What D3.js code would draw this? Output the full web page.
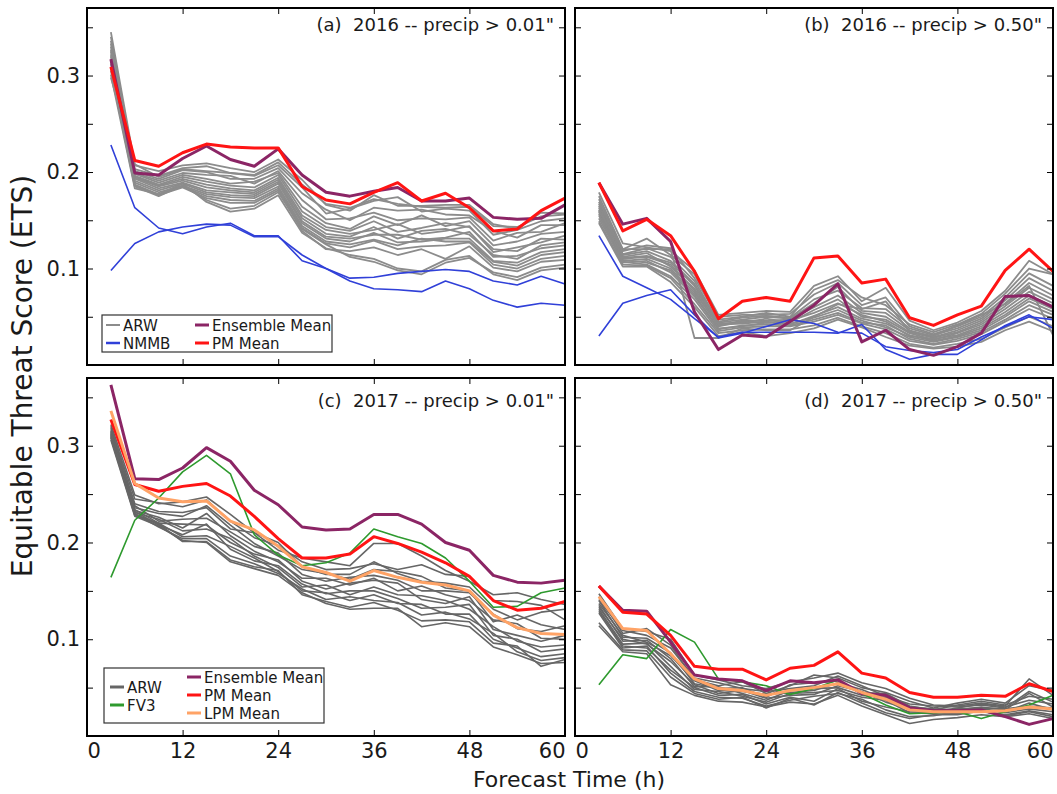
<!DOCTYPE html>
<html>
<head>
<meta charset="utf-8">
<script src="https://cdn.jsdelivr.net/npm/d3@7"></script>
<style>
body { margin: 0; background: #fff; }
text { font-family: "DejaVu Sans", Verdana, sans-serif; }
</style>
</head>
<body>
<svg width="1057" height="794"></svg>
<script>
// forecast hours (3-hourly)
let hours = [3,6,9,12,15,18,21,24,27,30,33,36,39,42,45,48,51,54,57,60];
let xTicks = [0,12,24,36,48,60];
let yTicks = [0.05,0.10,0.15,0.20,0.25,0.30,0.35];
let panelTitles = ['(a)  2016 -- precip > 0.01"', '(b)  2016 -- precip > 0.50"',
                   '(c)  2017 -- precip > 0.01"', '(d)  2017 -- precip > 0.50"'];

// ---- panel (a) ----
let aARW = [
  [.345,.207,.201,.207,.209,.204,.200,.213,.192,.166,.160,.176,.165,.165,.166,.166,.146,.141,.158,.157],
  [.340,.203,.196,.204,.206,.199,.196,.207,.184,.157,.162,.170,.174,.159,.162,.160,.135,.140,.149,.152],
  [.336,.201,.193,.202,.200,.193,.193,.204,.178,.161,.150,.163,.160,.161,.156,.155,.139,.132,.145,.145],
  [.333,.199,.191,.199,.197,.196,.188,.201,.171,.151,.152,.158,.150,.152,.151,.153,.129,.137,.138,.147],
  [.330,.198,.189,.197,.193,.188,.190,.199,.164,.147,.141,.154,.145,.155,.144,.149,.124,.128,.136,.138],
  [.327,.196,.187,.195,.190,.186,.184,.197,.159,.143,.139,.149,.138,.142,.147,.143,.120,.118,.131,.130],
  [.325,.195,.186,.193,.187,.183,.181,.194,.155,.140,.136,.140,.146,.136,.139,.144,.117,.122,.127,.134],
  [.322,.194,.185,.191,.184,.181,.179,.192,.152,.136,.133,.143,.131,.139,.141,.135,.114,.110,.124,.127],
  [.320,.193,.183,.189,.181,.179,.177,.190,.149,.133,.131,.135,.135,.130,.132,.138,.112,.113,.121,.124],
  [.317,.191,.181,.188,.179,.176,.175,.188,.147,.131,.128,.137,.127,.128,.131,.131,.108,.106,.117,.120],
  [.315,.189,.179,.186,.177,.174,.173,.185,.144,.128,.125,.130,.124,.131,.128,.128,.107,.103,.114,.117],
  [.312,.187,.177,.185,.175,.171,.170,.183,.142,.126,.122,.129,.120,.123,.124,.127,.104,.100,.110,.113],
  [.309,.186,.176,.184,.173,.168,.168,.181,.139,.120,.118,.122,.114,.120,.110,.123,.101,.097,.107,.109],
  [.305,.185,.175,.186,.171,.162,.165,.179,.141,.125,.112,.107,.098,.094,.106,.111,.096,.091,.101,.104],
  [.301,.183,.177,.188,.169,.159,.162,.176,.137,.121,.114,.110,.100,.097,.109,.113,.094,.088,.098,.101],
  [.298,.208,.195,.203,.201,.199,.197,.210,.187,.167,.163,.172,.167,.164,.163,.164,.144,.143,.154,.156]
];
let aNMMB = [
  [.228,.163,.142,.136,.143,.147,.134,.134,.108,.100,.090,.091,.095,.097,.099,.097,.087,.083,.092,.084],
  [.098,.126,.138,.143,.146,.145,.133,.133,.114,.100,.087,.079,.078,.076,.087,.079,.067,.060,.064,.062]
];
let aEns = [.317,.199,.197,.214,.227,.213,.206,.224,.197,.179,.175,.180,.184,.170,.170,.173,.153,.151,.152,.166];
let aPM  = [.309,.212,.206,.220,.229,.226,.225,.225,.185,.171,.167,.179,.189,.170,.178,.163,.139,.141,.160,.173];

// ---- panel (b) ----
let bARW = [
  [.179,.126,.122,.118,.098,.052,.054,.056,.055,.082,.092,.066,.080,.046,.036,.044,.056,.077,.108,.094],
  [.175,.120,.131,.114,.094,.047,.050,.054,.050,.078,.088,.070,.062,.042,.034,.042,.053,.074,.100,.094],
  [.172,.118,.124,.121,.090,.050,.052,.052,.053,.073,.085,.062,.070,.040,.032,.040,.050,.070,.095,.082],
  [.169,.115,.121,.112,.087,.045,.049,.051,.049,.068,.077,.059,.058,.038,.031,.038,.048,.067,.090,.077],
  [.167,.114,.118,.108,.084,.044,.047,.050,.048,.064,.081,.056,.054,.036,.029,.036,.046,.064,.085,.072],
  [.165,.111,.113,.106,.082,.041,.046,.046,.047,.060,.072,.054,.050,.034,.028,.034,.044,.061,.080,.068],
  [.163,.112,.116,.102,.079,.043,.044,.048,.044,.057,.068,.050,.047,.033,.026,.033,.042,.058,.076,.064],
  [.161,.110,.112,.104,.077,.040,.045,.044,.046,.054,.064,.052,.045,.030,.027,.031,.040,.055,.072,.061],
  [.159,.108,.110,.100,.075,.042,.043,.045,.042,.051,.060,.048,.043,.031,.025,.030,.038,.052,.069,.058],
  [.157,.109,.106,.098,.073,.038,.040,.044,.043,.049,.057,.046,.039,.029,.024,.029,.036,.050,.066,.055],
  [.155,.106,.108,.096,.071,.037,.041,.042,.041,.047,.054,.044,.041,.027,.022,.027,.034,.047,.062,.052],
  [.152,.107,.104,.092,.068,.035,.039,.040,.040,.045,.052,.043,.037,.025,.021,.025,.032,.045,.058,.048],
  [.149,.104,.103,.090,.063,.033,.036,.037,.037,.041,.049,.040,.033,.022,.018,.022,.027,.039,.050,.040],
  [.147,.102,.102,.086,.060,.030,.034,.030,.033,.038,.047,.039,.029,.020,.017,.019,.024,.036,.045,.035],
  [.160,.120,.120,.120,.028,.028,.038,.036,.036,.050,.063,.058,.066,.035,.030,.041,.052,.063,.082,.031]
];
let bNMMB = [
  [.134,.092,.080,.068,.048,.029,.034,.034,.034,.034,.033,.042,.016,.006,.011,.011,.026,.041,.052,.038],
  [.030,.064,.072,.078,.052,.028,.033,.040,.047,.043,.034,.033,.019,.015,.013,.016,.029,.040,.050,.047]
];
let bEns = [.189,.146,.152,.128,.055,.016,.031,.029,.045,.062,.084,.024,.036,.016,.010,.019,.033,.071,.072,.060];
let bPM  = [.189,.139,.151,.134,.097,.048,.066,.070,.066,.111,.113,.085,.089,.049,.041,.052,.061,.098,.120,.097];

// ---- panel (c) ----
let cARW = [
  [.322,.249,.240,.242,.247,.229,.210,.192,.184,.180,.176,.199,.199,.186,.171,.160,.146,.148,.141,.136],
  [.318,.245,.241,.237,.244,.222,.205,.197,.180,.172,.173,.178,.172,.177,.167,.165,.140,.139,.135,.120],
  [.316,.240,.232,.231,.236,.214,.210,.200,.175,.167,.167,.180,.168,.160,.158,.154,.131,.120,.128,.131],
  [.320,.236,.230,.227,.238,.218,.199,.186,.172,.168,.162,.172,.170,.165,.153,.150,.118,.125,.115,.110],
  [.314,.238,.222,.224,.225,.211,.196,.189,.167,.160,.164,.166,.161,.150,.150,.148,.126,.111,.108,.114],
  [.313,.233,.226,.215,.230,.207,.191,.180,.163,.163,.156,.163,.150,.155,.146,.140,.120,.116,.101,.100],
  [.315,.234,.220,.219,.218,.200,.188,.182,.160,.152,.158,.161,.158,.141,.137,.144,.110,.104,.098,.104],
  [.312,.231,.224,.212,.214,.204,.186,.174,.154,.156,.146,.154,.146,.145,.140,.131,.113,.098,.092,.094],
  [.310,.232,.218,.208,.219,.193,.181,.176,.157,.147,.150,.150,.142,.132,.133,.136,.104,.100,.087,.090],
  [.311,.229,.220,.206,.207,.196,.184,.170,.150,.148,.140,.146,.137,.136,.126,.126,.100,.091,.082,.085],
  [.309,.230,.216,.204,.204,.186,.178,.168,.152,.141,.144,.140,.138,.125,.128,.121,.106,.087,.078,.081],
  [.308,.228,.219,.201,.201,.182,.175,.171,.146,.139,.133,.138,.130,.119,.120,.118,.096,.093,.072,.079],
  [.306,.227,.217,.202,.200,.180,.173,.166,.148,.137,.131,.132,.132,.113,.117,.113,.092,.084,.075,.076]
];
let cFV3 = [.164,.223,.246,.273,.290,.271,.208,.187,.176,.179,.189,.214,.206,.199,.184,.160,.133,.134,.148,.153];
let cEns = [.363,.266,.265,.277,.298,.284,.254,.239,.216,.213,.214,.229,.229,.219,.200,.192,.166,.159,.158,.161];
let cPM  = [.327,.260,.253,.258,.261,.248,.227,.204,.184,.184,.188,.206,.199,.190,.179,.165,.140,.130,.132,.139];
let cLPM = [.336,.261,.246,.242,.243,.222,.213,.196,.175,.169,.160,.171,.164,.159,.156,.150,.125,.112,.106,.105];

// ---- panel (d) ----
let dARW = [
  [.147,.111,.108,.100,.063,.058,.052,.049,.056,.060,.065,.055,.049,.039,.032,.031,.034,.031,.059,.042],
  [.144,.106,.111,.094,.058,.052,.056,.044,.052,.063,.060,.050,.045,.036,.029,.034,.038,.034,.052,.047],
  [.141,.109,.104,.091,.060,.055,.049,.046,.049,.052,.062,.052,.041,.033,.031,.030,.032,.029,.046,.035],
  [.140,.102,.101,.086,.054,.049,.050,.040,.053,.055,.057,.045,.044,.031,.027,.032,.036,.032,.041,.038],
  [.137,.104,.097,.083,.057,.047,.046,.043,.045,.047,.055,.048,.038,.030,.028,.027,.030,.027,.044,.030],
  [.135,.098,.099,.080,.051,.051,.044,.037,.047,.049,.050,.042,.040,.027,.025,.029,.033,.030,.037,.033],
  [.133,.100,.095,.077,.053,.044,.047,.039,.042,.043,.052,.046,.035,.028,.026,.026,.028,.025,.034,.027],
  [.131,.095,.096,.072,.048,.046,.041,.035,.044,.045,.047,.040,.037,.024,.023,.028,.029,.028,.031,.029],
  [.129,.093,.091,.068,.050,.042,.043,.033,.040,.036,.049,.036,.030,.025,.024,.023,.027,.024,.028,.025],
  [.127,.091,.093,.065,.046,.040,.039,.031,.037,.041,.044,.038,.027,.020,.021,.025,.025,.022,.026,.022],
  [.117,.089,.088,.061,.044,.038,.040,.029,.039,.032,.045,.034,.024,.018,.022,.022,.026,.021,.025,.020],
  [.114,.087,.085,.053,.042,.036,.035,.030,.035,.033,.042,.031,.022,.013,.017,.019,.022,.020,.023,.018]
];
let dFV3 = [.053,.084,.080,.110,.097,.059,.056,.052,.043,.049,.058,.044,.032,.023,.024,.025,.018,.025,.032,.042];
let dEns = [.155,.130,.129,.097,.063,.059,.057,.047,.057,.055,.058,.044,.042,.029,.026,.026,.027,.020,.012,.018];
let dPM  = [.155,.128,.126,.104,.072,.069,.069,.058,.070,.073,.087,.065,.060,.045,.040,.040,.042,.041,.054,.046];
let dLPM = [.144,.111,.109,.085,.059,.049,.047,.042,.047,.050,.054,.045,.038,.027,.025,.025,.025,.026,.030,.028];

// colours
let cGrayLight = "#8c8c8c", cGrayDark = "#666666";
let cBlue = "#3040d8", cGreen = "#2e9a2e", cPurple = "#8b2565", cRed = "#ff1414", cOrange = "#ffa366";

let svg = d3.select("svg");

let panels = [
  {left: 87, right: 565, top: 8, bottom: 365, col: 0, row: 0, titleDy: 23,
   series: [{data: aARW, color: cGrayLight, w: 1.8}, {data: aNMMB, color: cBlue, w: 1.6},
            {data: [aEns], color: cPurple, w: 3}, {data: [aPM], color: cRed, w: 3}]},
  {left: 575, right: 1053, top: 8, bottom: 365, col: 1, row: 0, titleDy: 23,
   series: [{data: bARW, color: cGrayLight, w: 1.8}, {data: bNMMB, color: cBlue, w: 1.6},
            {data: [bEns], color: cPurple, w: 3}, {data: [bPM], color: cRed, w: 3}]},
  {left: 87, right: 565, top: 378, bottom: 736, col: 0, row: 1, titleDy: 29,
   series: [{data: cARW, color: cGrayDark, w: 1.6}, {data: [cFV3], color: cGreen, w: 1.6},
            {data: [cEns], color: cPurple, w: 3}, {data: [cPM], color: cRed, w: 3},
            {data: [cLPM], color: cOrange, w: 3}]},
  {left: 575, right: 1053, top: 378, bottom: 736, col: 1, row: 1, titleDy: 29,
   series: [{data: dARW, color: cGrayDark, w: 1.6}, {data: [dFV3], color: cGreen, w: 1.6},
            {data: [dEns], color: cPurple, w: 3}, {data: [dPM], color: cRed, w: 3},
            {data: [dLPM], color: cOrange, w: 3}]}
];

function styleAxis(g) {
  g.select(".domain").remove();
  g.selectAll(".tick line").attr("stroke", "#000").attr("stroke-width", 1);
  g.attr("font-size", 21).attr("font-family", '"DejaVu Sans", Verdana, sans-serif');
  g.selectAll(".tick text").attr("fill", "#1a1a1a");
}

panels.forEach((p, pi) => {
  let x = d3.scaleLinear().domain([0, 60]).range([p.left, p.right]);
  let y = d3.scaleLinear().domain([0, 0.37]).range([p.bottom, p.top]);
  let g = svg.append("g");

  let line = d3.line()
    .x((d, i) => x(hours[i]))
    .y(d => y(d));

  p.series.forEach(s => {
    g.selectAll(null)
      .data(s.data)
      .enter()
      .append("path")
      .attr("d", line)
      .attr("fill", "none")
      .attr("stroke", s.color)
      .attr("stroke-width", s.w)
      .attr("stroke-linejoin", "round");
  });

  // ticks point inward on all four sides
  let xb = g.append("g").attr("transform", `translate(0,${p.bottom})`)
    .call(d3.axisBottom(x).tickValues(xTicks).tickSize(-6).tickPadding(7)
      .tickFormat(p.row == 1 ? d3.format("d") : ""));
  styleAxis(xb);
  xb.selectAll(".tick text")
    .attr("text-anchor", d => d === 0 ? "start" : d === 60 ? "end" : "middle");

  let xt = g.append("g").attr("transform", `translate(0,${p.top})`)
    .call(d3.axisTop(x).tickValues(xTicks).tickSize(-6).tickFormat(""));
  styleAxis(xt);

  let yl = g.append("g").attr("transform", `translate(${p.left},0)`)
    .call(d3.axisLeft(y).tickValues(yTicks).tickSize(-6).tickPadding(7)
      .tickFormat(d => (p.col == 0 && Math.round(d * 100) % 10 == 0) ? d3.format(".1f")(d) : ""));
  styleAxis(yl);

  let yr = g.append("g").attr("transform", `translate(${p.right},0)`)
    .call(d3.axisRight(y).tickValues(yTicks).tickSize(-6).tickFormat(""));
  styleAxis(yr);

  g.append("rect")
    .attr("x", p.left).attr("y", p.top)
    .attr("width", p.right - p.left).attr("height", p.bottom - p.top)
    .attr("fill", "none").attr("stroke", "#000").attr("stroke-width", 2);

  g.append("text")
    .attr("x", p.right - 11)
    .attr("y", p.top + p.titleDy)
    .attr("text-anchor", "end")
    .attr("font-size", 18)
    .attr("fill", "#1a1a1a")
    .style("white-space", "pre")
    .text(panelTitles[pi]);
});

// legends
function legend(x0, y0, w, h, items) {
  let lg = svg.append("g").attr("transform", `translate(${x0},${y0})`);
  lg.append("rect").attr("width", w).attr("height", h)
    .attr("fill", "#fff").attr("stroke", "#333").attr("stroke-width", 1.2);
  items.forEach(it => {
    lg.append("line").attr("x1", it.x).attr("x2", it.x + 14)
      .attr("y1", it.y).attr("y2", it.y)
      .attr("stroke", it.color).attr("stroke-width", it.w);
    lg.append("text").attr("x", it.x + 17).attr("y", it.y + 5.5)
      .attr("font-size", 15).attr("fill", "#1a1a1a").text(it.label);
  });
}

legend(102, 315, 230, 37, [
  {label: "ARW", color: cGrayLight, w: 2, x: 4, y: 10},
  {label: "NMMB", color: cBlue, w: 2.5, x: 4, y: 28},
  {label: "Ensemble Mean", color: cPurple, w: 3, x: 93, y: 10},
  {label: "PM Mean", color: cRed, w: 3, x: 93, y: 28}
]);

legend(104, 668, 220, 55, [
  {label: "ARW", color: cGrayDark, w: 3, x: 6, y: 19},
  {label: "FV3", color: cGreen, w: 3, x: 6, y: 37},
  {label: "Ensemble Mean", color: cPurple, w: 3, x: 83, y: 9},
  {label: "PM Mean", color: cRed, w: 3, x: 83, y: 27},
  {label: "LPM Mean", color: cOrange, w: 3, x: 83, y: 45}
]);

// axis titles
svg.append("text")
  .attr("transform", "translate(32,376) rotate(-90)")
  .attr("text-anchor", "middle")
  .attr("font-size", 28)
  .attr("fill", "#1a1a1a")
  .text("Equitable Threat Score (ETS)");

svg.append("text")
  .attr("x", 569).attr("y", 787)
  .attr("text-anchor", "middle")
  .attr("font-size", 22)
  .attr("fill", "#1a1a1a")
  .text("Forecast Time (h)");
</script>
</body>
</html>
